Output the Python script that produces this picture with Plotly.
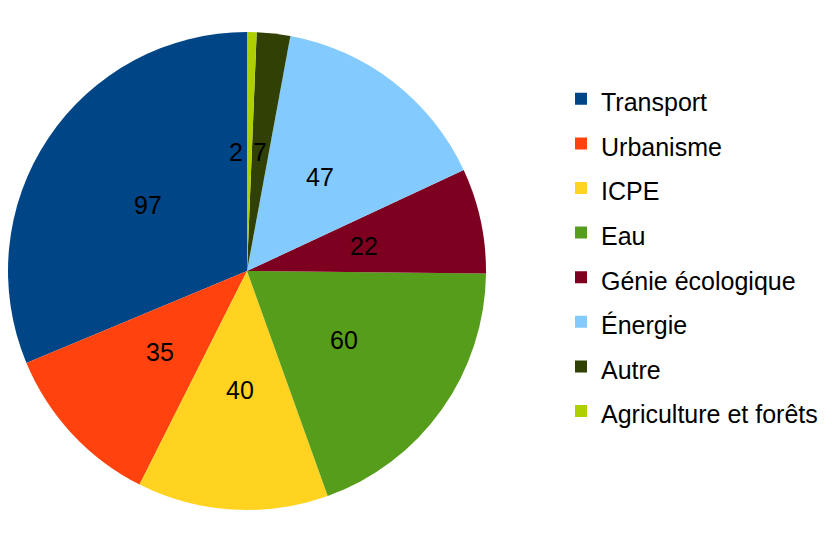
import math
import plotly.graph_objects as go

categories = ["Transport", "Urbanisme", "ICPE", "Eau", "Génie écologique",
              "Énergie", "Autre", "Agriculture et forêts"]
values = [97, 35, 40, 60, 22, 47, 7, 2]
colors = ["#004586", "#ff420e", "#ffd320", "#579d1c", "#7e0021",
          "#83caff", "#314004", "#aecf00"]

W, H = 832, 536
OFF = 8                      # page body margin of the browser
cx, cy, r = 247, 271, 239    # pie centre / radius in screen pixels
FS = 25                      # font size

def px2paper(x, y):
    return (x - OFF) / W, 1 - (y - OFF) / H

total = sum(values)

fig = go.Figure(go.Pie(
    labels=[f"<span style='font-size:{FS}px'>{c}</span>" for c in categories],
    values=values,
    marker=dict(colors=colors, line=dict(width=0)),
    sort=False,
    direction="counterclockwise",
    rotation=-360 * values[0] / total,   # first slice starts at 12 o'clock, going left
    textinfo="none",
    domain=dict(x=[(cx - r - OFF) / W, (cx + r - OFF) / W],
                y=[1 - (cy + r - OFF) / H, 1 - (cy - r - OFF) / H]),
    hovertext=categories,
    hoverinfo="text+value+percent",
))

# value labels at half radius on each slice's bisector (counterclockwise from top)
pos = []
cum = 0
for v in values:
    a = math.radians((cum + v / 2) / total * 360)
    cum += v
    pos.append([cx - 0.5 * r * math.sin(a), cy - 0.5 * r * math.cos(a)])

# simple collision avoidance between neighbouring labels
def tw(t):
    return 0.556 * FS * len(t)

for i in range(len(values)):
    for j in range(i):
        dx = pos[i][0] - pos[j][0]
        dy = pos[i][1] - pos[j][1]
        half = (tw(str(values[i])) + tw(str(values[j]))) / 2
        if abs(dy) < FS and abs(dx) < half + 10:
            need = half + 10 - abs(dx)
            pos[i][0] += need if dx >= 0 else -need

annotations = []
for v, (x, y) in zip(values, pos):
    xp, yp = px2paper(x, y)
    annotations.append(dict(
        x=xp, y=yp, xref="paper", yref="paper",
        text=str(v), showarrow=False,
        font=dict(family="Liberation Sans", size=FS, color="black"),
        xanchor="center", yanchor="middle",
    ))

lx, ly = px2paper(561, 255)

fig.update_layout(
    width=W, height=H,
    margin=dict(l=0, r=0, t=0, b=0),
    paper_bgcolor="white",
    plot_bgcolor="white",
    font=dict(family="Liberation Sans", color="black"),
    annotations=annotations,
    legend=dict(
        x=lx, xanchor="left",
        y=ly, yanchor="middle",
        font=dict(family="Liberation Sans", size=32, color="black"),
        bgcolor="rgba(0,0,0,0)",
        traceorder="normal",
    ),
)

fig.write_html("out.html")
